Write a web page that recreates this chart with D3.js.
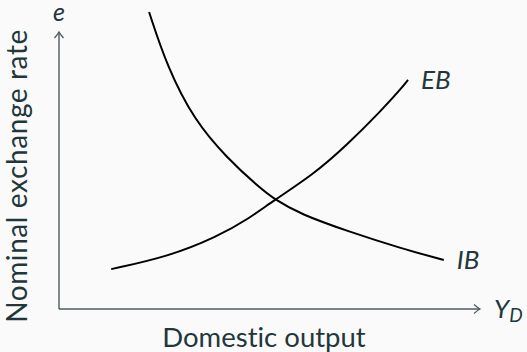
<!doctype html>
<html>
<head>
<meta charset="utf-8">
<style>
  body { margin: 0; background: #fafafa; }
  svg { display: block; }
  text { font-family: Lato, "DejaVu Sans", sans-serif; fill: #23373b; font-variant-ligatures: none; }
</style>
<script src="https://d3js.org/d3.v7.min.js"></script>
</head>
<body>
<div id="chart"></div>
<script>
// curve readings: output Y_D vs exchange rate e (arbitrary units)
var ebY = [1.24, 2.57, 3.75, 4.54, 5.08, 6.03, 6.84, 7.62, 8.10, 8.29];
var ebE = [1.44, 1.88, 2.60, 3.29, 3.90, 4.84, 5.92, 7.11, 7.91, 8.27];
var ibY = [2.14, 2.57, 3.21, 3.99, 4.77, 5.11, 5.72, 6.91, 8.10, 9.14];
var ibE = [10.72, 8.74, 6.82, 5.45, 4.37, 3.97, 3.43, 2.78, 2.20, 1.77];

var width = 527, height = 352;

var svg = d3.select("#chart").append("svg")
    .attr("width", width)
    .attr("height", height);

svg.append("rect")
    .attr("width", width)
    .attr("height", height)
    .attr("fill", "#fafafa");

var x = d3.scaleLinear().domain([0, 10]).range([59, 480]);
var y = d3.scaleLinear().domain([0, 10]).range([309, 32]);

var axisColor = "#4b5b5f";

// axes with arrow tips
svg.append("line")
    .attr("x1", x(0)).attr("y1", y(0))
    .attr("x2", x(10)).attr("y2", y(0))
    .attr("stroke", axisColor).attr("stroke-width", 1.4);
svg.append("line")
    .attr("x1", x(0)).attr("y1", y(0))
    .attr("x2", x(0)).attr("y2", y(10))
    .attr("stroke", axisColor).attr("stroke-width", 1.4);

svg.append("path")
    .attr("d", "M" + (x(10) - 6) + "," + (y(0) - 4.5) + " Q" + (x(10) - 2) + "," + (y(0) - 1) + " " + x(10) + "," + y(0)
        + " Q" + (x(10) - 2) + "," + (y(0) + 1) + " " + (x(10) - 6) + "," + (y(0) + 4.5))
    .attr("fill", "none").attr("stroke", axisColor).attr("stroke-width", 1.3);
svg.append("path")
    .attr("d", "M" + (x(0) - 4.5) + "," + (y(10) + 6) + " Q" + (x(0) - 1) + "," + (y(10) + 2) + " " + x(0) + "," + y(10)
        + " Q" + (x(0) + 1) + "," + (y(10) + 2) + " " + (x(0) + 4.5) + "," + (y(10) + 6))
    .attr("fill", "none").attr("stroke", axisColor).attr("stroke-width", 1.3);

// curves
var line = d3.line()
    .x(function(d) { return x(d[0]); })
    .y(function(d) { return y(d[1]); })
    .curve(d3.curveBasis);

svg.append("path")
    .datum(d3.zip(ebY, ebE))
    .attr("d", line)
    .attr("fill", "none").attr("stroke", "#000").attr("stroke-width", 2);

svg.append("path")
    .datum(d3.zip(ibY, ibE))
    .attr("d", line)
    .attr("fill", "none").attr("stroke", "#000").attr("stroke-width", 2);

// labels
var lastEB = ebY.length - 1, lastIB = ibY.length - 1;
svg.append("text")
    .attr("x", x(ebY[lastEB]) + 13).attr("y", y(ebE[lastEB]) + 9)
    .attr("font-size", 26).attr("font-style", "italic")
    .text("EB");
svg.append("text")
    .attr("x", x(ibY[lastIB]) + 13).attr("y", y(ibE[lastIB]) + 9)
    .attr("font-size", 26).attr("font-style", "italic")
    .text("IB");

svg.append("text")
    .attr("x", x(0)).attr("y", 21)
    .attr("text-anchor", "middle")
    .attr("font-size", 25).attr("font-style", "italic")
    .text("e");

var yd = svg.append("text")
    .attr("x", 494).attr("y", 318)
    .attr("font-size", 26).attr("font-style", "italic");
yd.append("tspan").text("Y");
yd.append("tspan").attr("font-size", 19).attr("dy", 4).text("D");

svg.append("text")
    .attr("x", 264).attr("y", 347)
    .attr("text-anchor", "middle")
    .attr("font-size", 27.5)
    .text("Domestic output");

svg.append("text")
    .attr("transform", "translate(27,176) rotate(-90)")
    .attr("text-anchor", "middle")
    .attr("font-size", 28)
    .attr("letter-spacing", 0.6)
    .text("Nominal exchange rate");
</script>
</body>
</html>
